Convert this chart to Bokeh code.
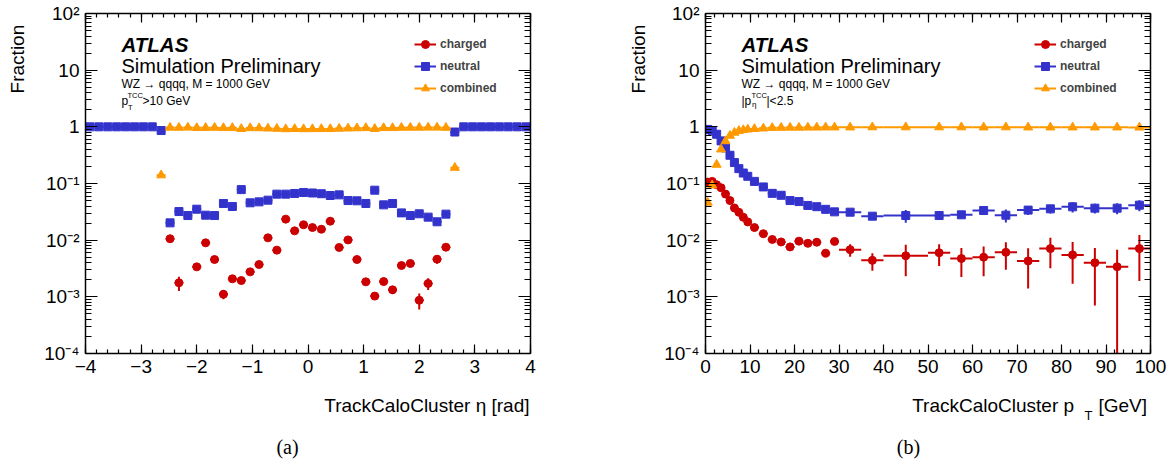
import math
import numpy as np
from bokeh.plotting import figure
from bokeh.models import (Label, Legend, LegendItem, LinearAxis, LogAxis, Range1d,
                          CustomJSTickFormatter, LogTicker, SingleIntervalTicker)
from bokeh.layouts import row, column
from bokeh.embed import file_html
from bokeh.resources import INLINE

nan = float("nan")

# ---------------- data: panel (a) vs eta ----------------
eta_centers = [-3.92, -3.76, -3.60, -3.44, -3.28, -3.12, -2.96, -2.80, -2.64, -2.48,
               -2.32, -2.16, -2.00, -1.84, -1.68, -1.52, -1.36, -1.20, -1.04, -0.88,
               -0.72, -0.56, -0.40, -0.24, -0.08, 0.08, 0.24, 0.40, 0.56, 0.72,
               0.88, 1.04, 1.20, 1.36, 1.52, 1.68, 1.84, 2.00, 2.16, 2.32,
               2.48, 2.64, 2.80, 2.96, 3.12, 3.28, 3.44, 3.60, 3.76, 3.92]
eta_half_width = 0.08

neutral_eta = [1.0, 1.0, 1.0, 1.0, 1.0, 1.0, 1.0, 1.0, 0.86,
               0.0202, 0.032, 0.0272, 0.0352, 0.0276, 0.0272, 0.0444, 0.0393, 0.078, 0.0456,
               0.0474, 0.0508, 0.0649, 0.0649, 0.0667, 0.0694, 0.068, 0.066, 0.0614, 0.063,
               0.050, 0.0495, 0.0444, 0.0762, 0.042, 0.0444, 0.0303, 0.0272, 0.0292, 0.0255,
               0.0211, 0.0288,
               0.81, 1.0, 1.0, 1.0, 1.0, 1.0, 1.0, 1.0, 1.0]

charged_eta = [nan, nan, nan, nan, nan, nan, nan, nan, nan,
               0.0106, 0.00177, nan, 0.00338, 0.00897, 0.00456, 0.00111, 0.00208, 0.00194, 0.00276,
               0.00372, 0.011, 0.00667, 0.0235, 0.0146, 0.0187, 0.0167, 0.0156, 0.0216, 0.00743,
               0.0101, 0.00456, 0.00184, 0.00103, 0.00186, 0.00133, 0.00357, 0.00388, 0.00087, 0.00172,
               0.00462, 0.00751,
               nan, nan, nan, nan, nan, nan, nan, nan, nan]

charged_eta_err = [nan, nan, nan, nan, nan, nan, nan, nan, nan,
                   0.0006, 0.0005, nan, 0.0003, 0.0005, 0.0003, 0.0002, 0.0002, 0.0002, 0.0002,
                   0.0003, 0.0005, 0.0004, 0.0008, 0.0006, 0.0007, 0.0006, 0.0006, 0.0008, 0.0004,
                   0.0005, 0.0003, 0.0002, 0.0001, 0.0002, 0.0002, 0.0003, 0.0003, 0.00027, 0.0004,
                   0.0008, 0.0008,
                   nan, nan, nan, nan, nan, nan, nan, nan, nan]

combined_eta = [nan, nan, nan, nan, nan, nan, nan, nan, 0.14,
                0.97, 0.966, 0.973, 0.96, 0.962, 0.968, 0.955, 0.959, 0.92, 0.951,
                0.949, 0.938, 0.928, 0.912, 0.919, 0.912, 0.915, 0.918, 0.917, 0.93,
                0.94, 0.946, 0.954, 0.923, 0.956, 0.955, 0.966, 0.969, 0.97, 0.973,
                0.974, 0.964,
                0.19, nan, nan, nan, nan, nan, nan, nan, nan]

# ---------------- data: panel (b) vs pT ----------------
pt_edges = [0, 1, 2, 3, 4, 5, 6, 7, 8, 9, 10, 12, 14, 16, 18, 20, 22, 24, 26, 28, 30,
            35, 40, 50, 55, 60, 65, 70, 75, 80, 85, 90, 95, 100]

neutral_pt = [0.90, 0.85, 0.74, 0.565, 0.425, 0.315, 0.234, 0.183, 0.153, 0.134,
              0.109, 0.087, 0.067, 0.062, 0.050, 0.048, 0.041, 0.039, 0.035, 0.0316,
              0.0312, 0.0265, 0.0272, 0.0272, 0.028, 0.0334, 0.0276, 0.0339, 0.0357, 0.0388,
              0.0367, 0.0367, 0.0415]
neutral_pt_err = [0.01, 0.01, 0.008, 0.006, 0.005, 0.004, 0.003, 0.002, 0.002, 0.002,
                  0.0015, 0.0012, 0.001, 0.001, 0.001, 0.001, 0.001, 0.001, 0.001, 0.001,
                  0.002, 0.003, 0.007, 0.004, 0.004, 0.005, 0.007, 0.006, 0.006, 0.008,
                  0.007, 0.008, 0.009]

charged_pt = [0.106, 0.109, 0.095, 0.084, 0.065, 0.050, 0.037, 0.031, 0.0253, 0.021,
              0.0167, 0.0130, 0.0103, 0.0093, 0.0076, 0.0096, 0.0088, 0.0092, 0.0059, 0.0095,
              0.0068, 0.0044, 0.0053, 0.0060, 0.00475, 0.0050, 0.0061, 0.0043, 0.0071, 0.0055,
              0.0040, 0.0034, 0.0071]
charged_pt_err = [0.001, 0.001, 0.001, 0.001, 0.001, 0.0008, 0.0006, 0.0005, 0.0005, 0.0004,
                  0.0004, 0.0004, 0.0004, 0.0004, 0.0004, 0.0005, 0.0005, 0.0005, 0.0006, 0.0007,
                  0.0017, 0.0015, 0.003, 0.0025, 0.0025, 0.0027, 0.0031, 0.0029, 0.0039, 0.0038,
                  0.0033, 0.0034, 0.0052]

combined_pt = [0.046, 0.093, 0.215, 0.40, 0.56, 0.70, 0.79, 0.85, 0.88, 0.90,
               0.92, 0.94, 0.96, 0.965, 0.97, 0.97, 0.975, 0.975, 0.98, 0.98,
               0.98, 0.985, 0.985, 0.985, 0.985, 0.98, 0.985, 0.98, 0.98, 0.98,
               0.98, 0.98, 0.975]

series_names = ["charged", "neutral", "combined"]
y_ticks_range = (1e-4, 1e2)

# ---------------- styling ----------------
SANS = "Liberation Sans"
RED = "#cc0000"
BLUE = "#3333cc"
ORANGE = "#ff9900"
FRAME_W, FRAME_H = 445, 340
MAIN_H = 393
TEXT_H = 68

ylab_fmt = CustomJSTickFormatter(code="""
const e = Math.round(Math.log10(tick));
if (e == 0) return "1";
if (e == 1) return "10";
const sup = {"-": "\u207b", "0": "\u2070", "1": "\u00b9", "2": "\u00b2", "3": "\u00b3",
             "4": "\u2074", "5": "\u2075", "6": "\u2076", "7": "\u2077", "8": "\u2078", "9": "\u2079"};
return "10" + String(e).split("").map(c => sup[c]).join("");
""")
xlab_fmt = CustomJSTickFormatter(code="""
const v = Math.round(tick * 1000) / 1000;
return v < 0 ? "\u2212" + Math.abs(v) : String(v);
""")
blank_fmt = CustomJSTickFormatter(code="return '';")


def style_axis(ax, is_x, labels=True):
    ax.axis_line_width = 1.5
    ax.axis_line_color = "black"
    ax.major_tick_line_width = 1.2
    ax.minor_tick_line_width = 1.2
    ax.major_tick_out = 0
    ax.minor_tick_out = 0
    if is_x:
        ax.major_tick_in = 9
        ax.minor_tick_in = 4
    else:
        ax.major_tick_in = 12
        ax.minor_tick_in = 6
    if labels:
        ax.major_label_text_font = SANS
        ax.major_label_text_font_size = "19px"
        ax.major_label_text_color = "black"
        ax.major_label_standoff = 6
    else:
        ax.major_label_text_font_size = "0px"
        ax.major_label_standoff = 0


def lab(p, x, y, text, size, style="normal", font=SANS, align="left",
        baseline="alphabetic", angle=0.0, units="screen"):
    p.add_layout(Label(x=x, y=y, x_units=units, y_units=units, text=text,
                       text_font=font, text_font_size=size, text_font_style=style,
                       text_align=align, text_baseline=baseline, angle=angle,
                       text_color="black"))


def text_fig(w, h):
    f = figure(width=w, height=h, x_range=Range1d(0, w), y_range=Range1d(0, h),
               output_backend="svg", toolbar_location=None, min_border=0,
               x_axis_location=None, y_axis_location=None,
               outline_line_color=None, background_fill_color="white",
               border_fill_color="white")
    f.grid.visible = False
    return f


def draw_series(p, xc, xlo, xhi, y, yerr, color, marker, size):
    xc = np.asarray(xc, float)
    xlo = np.asarray(xlo, float)
    xhi = np.asarray(xhi, float)
    y = np.asarray(y, float)
    m = ~np.isnan(y)
    src = dict(x=xc[m], xlo=xlo[m], xhi=xhi[m], y=y[m])
    hr = p.segment(x0="xlo", x1="xhi", y0="y", y1="y", source=src,
                   line_color=color, line_width=2)
    if yerr is not None:
        e = np.nan_to_num(np.asarray(yerr, float)[m])
        lo = np.maximum(y[m] - e, 1e-6)
        hi = y[m] + e
        p.segment(x0=xc[m], x1=xc[m], y0=lo, y1=hi, line_color=color, line_width=2)
    sr = p.scatter(x="x", y="y", source=src, marker=marker, size=size,
                   fill_color=color, line_color=color)
    return hr, sr


def make_panel(x_range, x_interval, border_left, border_right, xc, xlo, xhi,
               data, cut_texts):
    p = figure(frame_width=FRAME_W, frame_height=FRAME_H,
               x_range=Range1d(*x_range), y_range=Range1d(*y_ticks_range),
               y_axis_type="log", output_backend="svg", toolbar_location=None,
               min_border_left=border_left, min_border_right=border_right,
               min_border_top=13, min_border_bottom=MAIN_H - 13 - FRAME_H,
               background_fill_color="white", border_fill_color="white",
               outline_line_color=None)
    p.grid.visible = False

    p.xaxis[0].ticker = SingleIntervalTicker(interval=x_interval, num_minor_ticks=5)
    p.xaxis[0].formatter = xlab_fmt
    style_axis(p.xaxis[0], True)
    p.yaxis[0].ticker = LogTicker(num_minor_ticks=10)
    p.yaxis[0].formatter = ylab_fmt
    style_axis(p.yaxis[0], False)

    top = LinearAxis(ticker=SingleIntervalTicker(interval=x_interval, num_minor_ticks=5),
                     formatter=blank_fmt)
    style_axis(top, True, labels=False)
    p.add_layout(top, "above")
    right = LogAxis(ticker=LogTicker(num_minor_ticks=10), formatter=blank_fmt)
    style_axis(right, False, labels=False)
    p.add_layout(right, "right")

    items = []
    specs = [(RED, "circle", 8), (BLUE, "square", 8), (ORANGE, "triangle", 9)]
    for name, (y, yerr), (col, mk, sz) in zip(series_names, data, specs):
        hr, sr = draw_series(p, xc, xlo, xhi, y, yerr, col, mk, sz)
        items.append(LegendItem(label=name, renderers=[hr, sr]))

    leg = Legend(items=items, location=(329, 255), orientation="vertical",
                 glyph_width=22, glyph_height=20, label_height=20, spacing=2,
                 padding=0, margin=0, label_standoff=4,
                 label_text_font=SANS, label_text_font_style="bold",
                 label_text_font_size="12px", border_line_color=None,
                 background_fill_alpha=0)
    p.add_layout(leg)

    lab(p, 36, 309.5, "ATLAS", "20.5px", style="bold italic")
    lab(p, 36, 288, "Simulation Preliminary", "20px")
    lab(p, 36, 269.5, "WZ \u2192 qqqq, M = 1000 GeV", "12px")
    for (tx, x, y, size) in cut_texts:
        lab(p, x, y, tx, size)
    return p


def y_title_fig(w, xc):
    f = text_fig(w, MAIN_H)
    lab(f, xc, MAIN_H - 13, "Fraction", "19px", align="right", baseline="middle",
        angle=math.pi / 2, units="data")
    return f


# ---------------- panel (a) ----------------
eta_lo = [c - eta_half_width for c in eta_centers]
eta_hi = [c + eta_half_width for c in eta_centers]
pa = make_panel((-4, 4), 1, 50, 56, eta_centers, eta_lo, eta_hi,
                [(charged_eta, charged_eta_err), (neutral_eta, None), (combined_eta, None)],
                [("p", 36, 253, "12px"), ("TCC", 42, 258, "7.5px"), ("T", 42.5, 246, "7.5px"),
                 (">10 GeV", 57, 253, "12px")])
fa = y_title_fig(35, 17)
ta = text_fig(586, TEXT_H)
lab(ta, 529, TEXT_H - 12, "TrackCaloCluster \u03b7 [rad]", "19px", align="right", units="data")
lab(ta, 287, TEXT_H - 53, "(a)", "20px", font="Liberation Serif", align="center",
    baseline="middle", units="data")

# ---------------- panel (b) ----------------
pt_lo = pt_edges[:-1]
pt_hi = pt_edges[1:]
pt_centers = [(a + b) / 2 for a, b in zip(pt_lo, pt_hi)]
pb = make_panel((0, 100), 10, 49, 23, pt_centers, pt_lo, pt_hi,
                [(charged_pt, charged_pt_err), (neutral_pt, neutral_pt_err), (combined_pt, None)],
                [("|p", 36, 253, "12px"), ("TCC", 46, 258, "7.5px"), ("\u03b7", 46.5, 249, "8px"),
                 ("|<2.5", 61, 253, "12px")])
fb = y_title_fig(70, 52)
tb = text_fig(587, TEXT_H)
lab(tb, 325.7, TEXT_H - 12, "TrackCaloCluster p", "19px", units="data")
lab(tb, 498, TEXT_H - 22, "T", "13px", units="data")
lab(tb, 512, TEXT_H - 12, "[GeV]", "19px", units="data")
lab(tb, 322, TEXT_H - 53, "(b)", "20px", font="Liberation Serif", align="center",
    baseline="middle", units="data")

layout = column(row(fa, pa, fb, pb), row(ta, tb))
open("out.html", "w").write(file_html(layout, INLINE))
